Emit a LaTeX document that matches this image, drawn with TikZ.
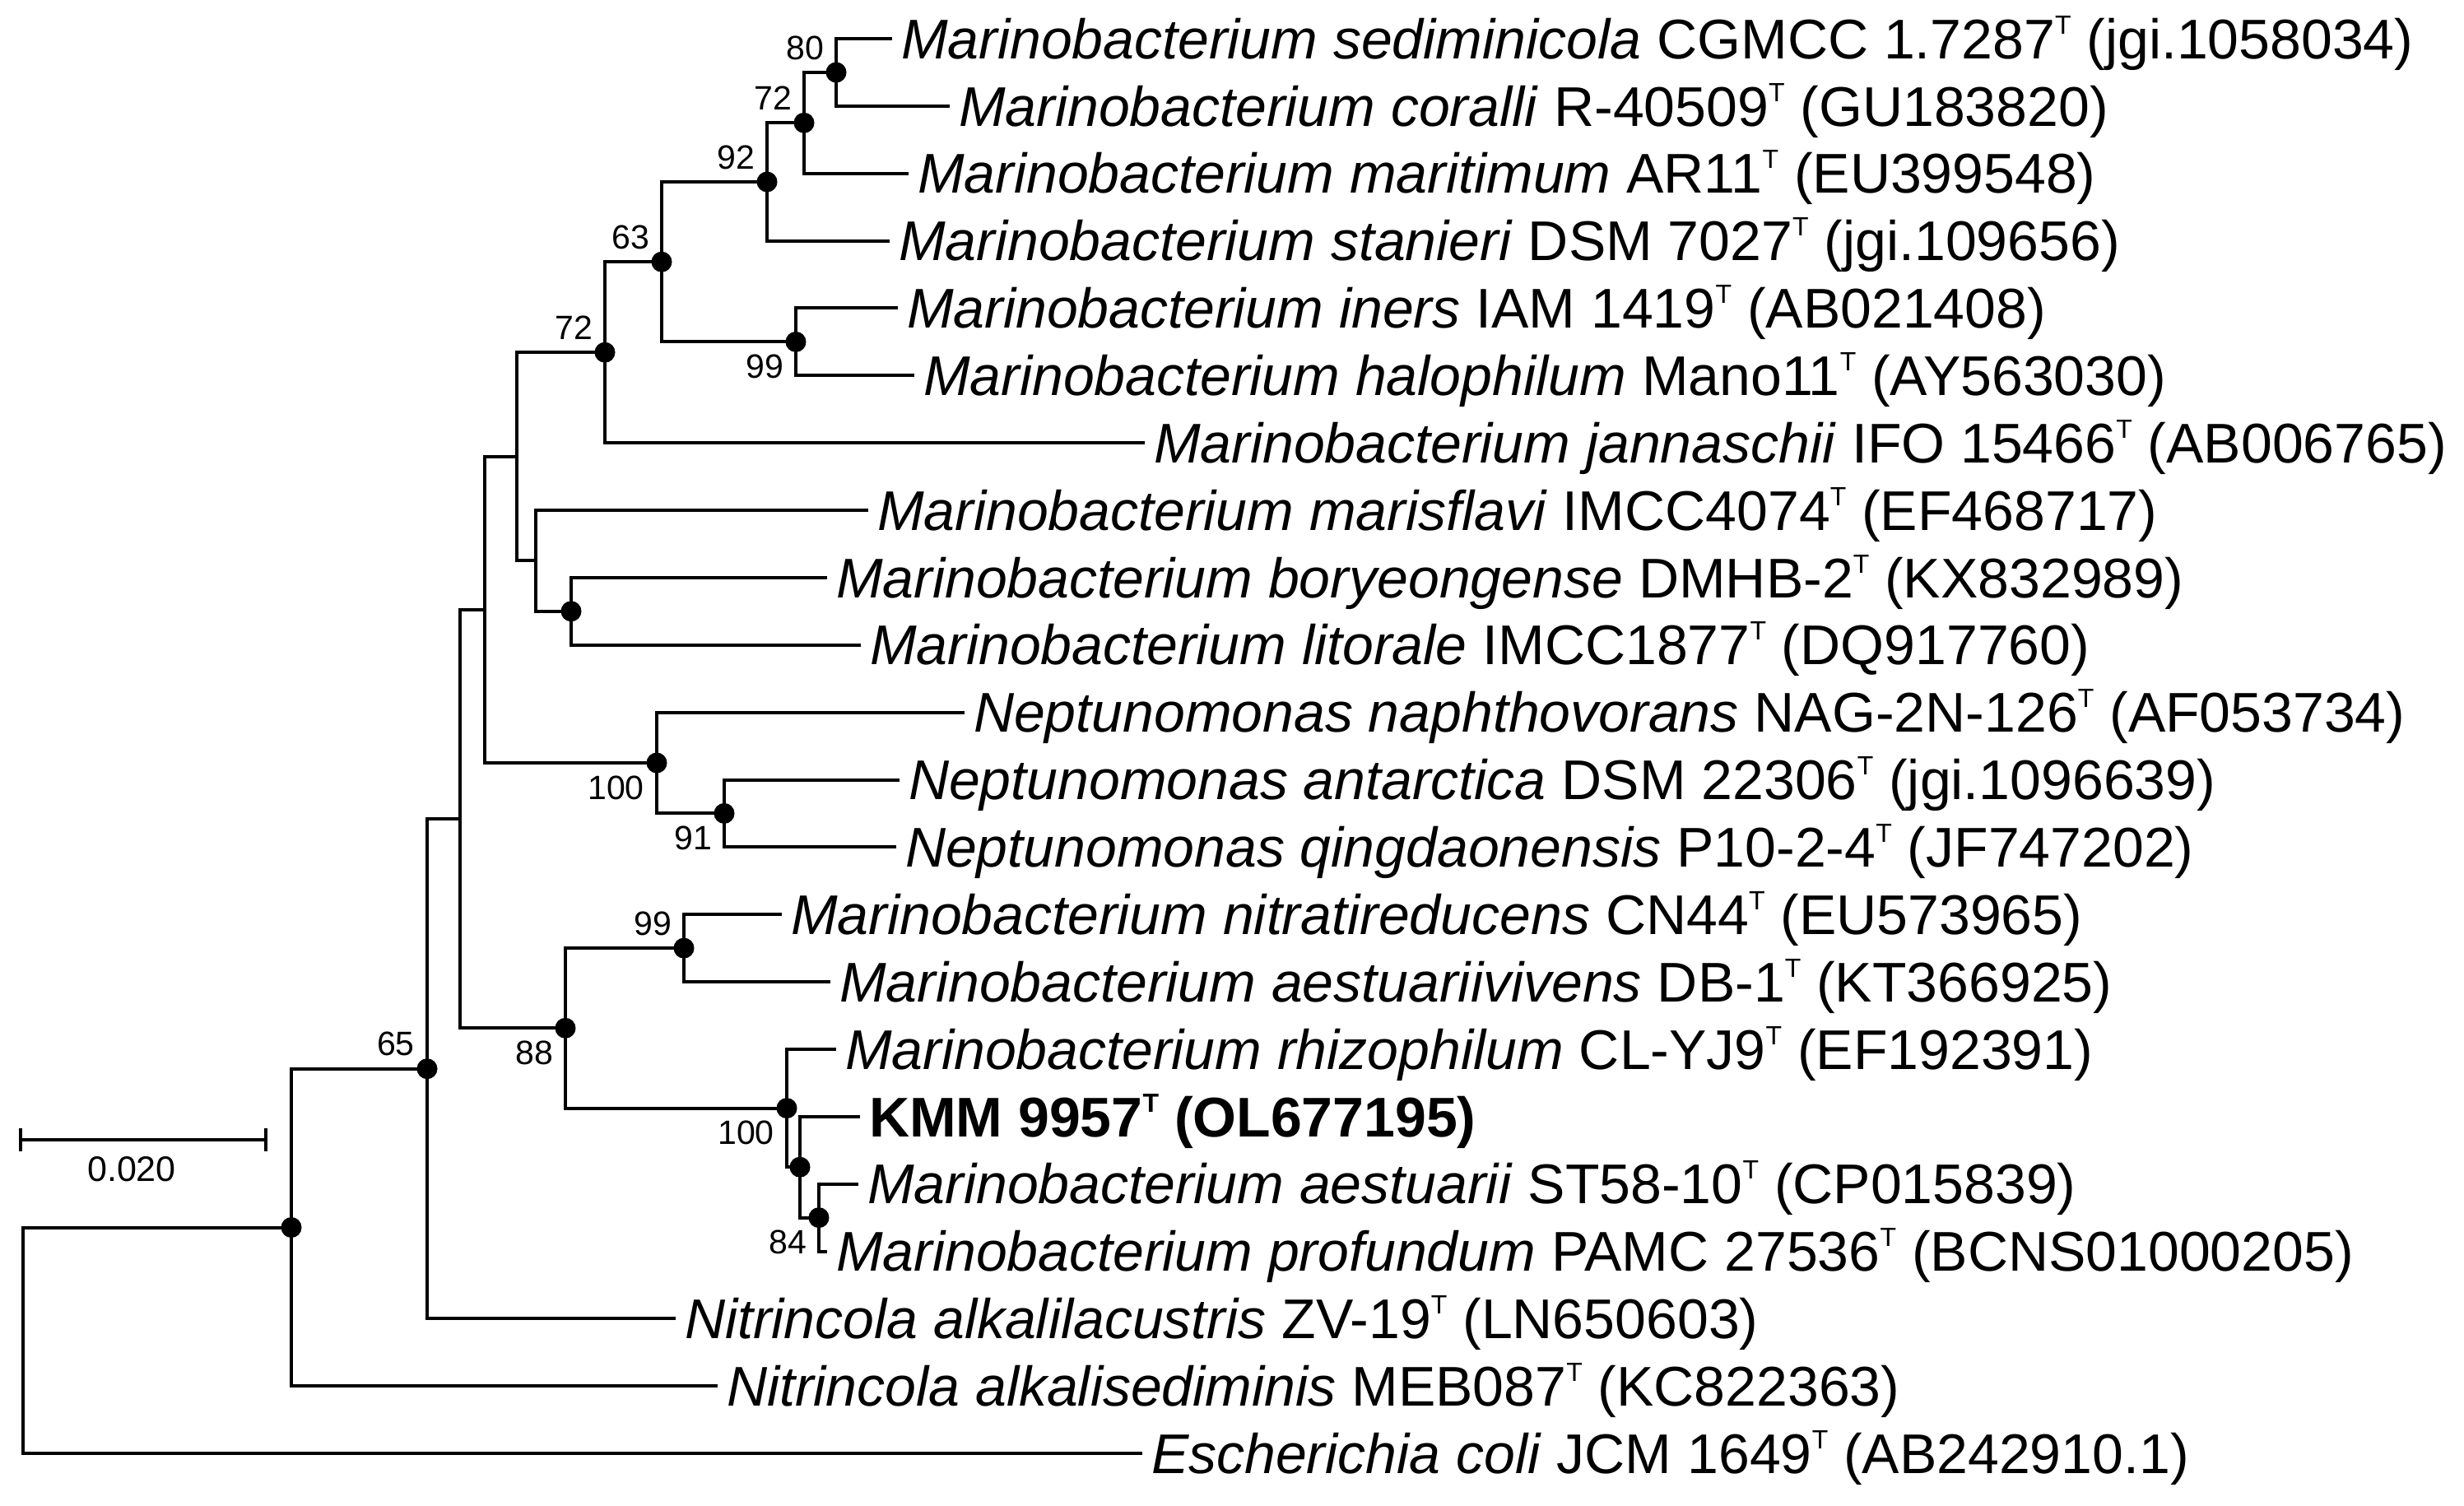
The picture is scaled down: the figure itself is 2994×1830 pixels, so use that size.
\documentclass[tikz,border=0pt]{standalone}
\usepackage{fontspec}
\setmainfont{Liberation Sans}
\newcommand\tsup{\raisebox{30pt}{\fontsize{32}{32}\selectfont T}}
\begin{document}
\begin{tikzpicture}[x=1pt,y=-1pt,
  branch/.style={line width=4pt},
  leaf/.style={anchor=west,inner xsep=11pt,inner ysep=0pt,outer sep=0pt,
    font=\fontsize{68}{72}\selectfont,text height=48.5pt,text depth=0pt},
  boot/.style={font=\fontsize{41}{43}\selectfont,inner sep=0pt},
  bootup/.style={boot,anchor=east,xshift=-15pt,yshift=30pt},
  bootdown/.style={boot,anchor=east,xshift=-15pt,yshift=-30pt},
  dot/.style={fill=black}]
\useasboundingbox (0,0) rectangle (2994,1830);
% internal nodes
\coordinate (root) at (28,1628.8);
\coordinate (n1) at (354,1491.5);
\coordinate (n65) at (519,1298.7);
\coordinate (na) at (559,995.1);
\coordinate (nb) at (589,740.9);
\coordinate (nc) at (628,554.8);
\coordinate (n72b) at (735,428.2);
\coordinate (n63) at (804,318.2);
\coordinate (n92) at (932,221);
\coordinate (n72a) at (977,149.3);
\coordinate (n80) at (1016,88);
\coordinate (n99a) at (967,415.4);
\coordinate (nd) at (651,681.4);
\coordinate (ne) at (694,742.8);
\coordinate (nn100) at (798,927);
\coordinate (n91) at (880,988.4);
\coordinate (n88) at (687,1249.3);
\coordinate (n99b) at (831,1152.1);
\coordinate (n100c) at (956,1346.6);
\coordinate (nf) at (972,1418.2);
\coordinate (n84) at (995,1479.6);
% leaves
\node[leaf] (l0) at (1084,47) {\textit{Marinobacterium sediminicola} CGMCC 1.7287\tsup{} (jgi.1058034)};
\node[leaf] (l1) at (1154,128.9) {\textit{Marinobacterium coralli} R-40509\tsup{} (GU183820)};
\node[leaf] (l2) at (1104,210.7) {\textit{Marinobacterium maritimum} AR11\tsup{} (EU399548)};
\node[leaf] (l3) at (1081,292.6) {\textit{Marinobacterium stanieri} DSM 7027\tsup{} (jgi.109656)};
\node[leaf] (l4) at (1091,374.4) {\textit{Marinobacterium iners} IAM 1419\tsup{} (AB021408)};
\node[leaf] (l5) at (1111,456.3) {\textit{Marinobacterium halophilum} Mano11\tsup{} (AY563030)};
\node[leaf] (l6) at (1391,538.2) {\textit{Marinobacterium jannaschii} IFO 15466\tsup{} (AB006765)};
\node[leaf] (l7) at (1055,620) {\textit{Marinobacterium marisflavi} IMCC4074\tsup{} (EF468717)};
\node[leaf] (l8) at (1005,701.9) {\textit{Marinobacterium boryeongense} DMHB-2\tsup{} (KX832989)};
\node[leaf] (l9) at (1046,783.7) {\textit{Marinobacterium litorale} IMCC1877\tsup{} (DQ917760)};
\node[leaf] (l10) at (1172,865.6) {\textit{Neptunomonas naphthovorans} NAG-2N-126\tsup{} (AF053734)};
\node[leaf] (l11) at (1093,947.5) {\textit{Neptunomonas antarctica} DSM 22306\tsup{} (jgi.1096639)};
\node[leaf] (l12) at (1089,1029.3) {\textit{Neptunomonas qingdaonensis} P10-2-4\tsup{} (JF747202)};
\node[leaf] (l13) at (950,1111.2) {\textit{Marinobacterium nitratireducens} CN44\tsup{} (EU573965)};
\node[leaf] (l14) at (1009,1193) {\textit{Marinobacterium aestuariivivens} DB-1\tsup{} (KT366925)};
\node[leaf] (l15) at (1016,1274.9) {\textit{Marinobacterium rhizophilum} CL-YJ9\tsup{} (EF192391)};
\node[leaf] (l16) at (1045,1356.8) {\textbf{KMM 9957\tsup{} (OL677195)}};
\node[leaf] (l17) at (1043,1438.6) {\textit{Marinobacterium aestuarii} ST58-10\tsup{} (CP015839)};
\node[leaf] (l18) at (1005,1520.5) {\textit{Marinobacterium profundum} PAMC 27536\tsup{} (BCNS01000205)};
\node[leaf] (l19) at (821,1602.3) {\textit{Nitrincola alkalilacustris} ZV-19\tsup{} (LN650603)};
\node[leaf] (l20) at (872,1684.2) {\textit{Nitrincola alkalisediminis} MEB087\tsup{} (KC822363)};
\node[leaf] (l21) at (1388,1766.1) {\textit{Escherichia coli} JCM 1649\tsup{} (AB242910.1)};
% branches
\begin{scope}[branch]
\draw (root) |- (n1);   \draw (root) |- (l21.west);
\draw (n1) |- (n65);    \draw (n1) |- (l20.west);
\draw (n65) |- (na);    \draw (n65) |- (l19.west);
\draw (na) |- (nb);     \draw (na) |- (n88);
\draw (nb) |- (nc);     \draw (nb) |- (nn100);
\draw (nc) |- (n72b);   \draw (nc) |- (nd);
\draw (n72b) |- (n63);  \draw (n72b) |- (l6.west);
\draw (n63) |- (n92);   \draw (n63) |- (n99a);
\draw (n92) |- (n72a);  \draw (n92) |- (l3.west);
\draw (n72a) |- (n80);  \draw (n72a) |- (l2.west);
\draw (n80) |- (l0.west); \draw (n80) |- (l1.west);
\draw (n99a) |- (l4.west); \draw (n99a) |- (l5.west);
\draw (nd) |- (l7.west); \draw (nd) |- (ne);
\draw (ne) |- (l8.west); \draw (ne) |- (l9.west);
\draw (nn100) |- (l10.west); \draw (nn100) |- (n91);
\draw (n91) |- (l11.west); \draw (n91) |- (l12.west);
\draw (n88) |- (n99b);  \draw (n88) |- (n100c);
\draw (n99b) |- (l13.west); \draw (n99b) |- (l14.west);
\draw (n100c) |- (l15.west); \draw (n100c) |- (nf);
\draw (nf) |- (l16.west); \draw (nf) |- (n84);
\draw (n84) |- (l17.west); \draw (n84) |- (l18.west);
\end{scope}
% dots
\foreach \n in {n1,n65,n72b,n63,n92,n72a,n80,n99a,ne,nn100,n91,n88,n99b,n100c,nf,n84}
  \fill[dot] (\n) circle[radius=12.5pt];
% bootstrap values
\node[bootup] (b80) at (n80) {80};
\node[bootup] (b72a) at (n72a) {72};
\node[bootup] (b92) at (n92) {92};
\node[bootup] (b63) at (n63) {63};
\node[bootup] (b72b) at (n72b) {72};
\node[bootdown] (b99a) at (n99a) {99};
\node[bootdown] (b100n) at (nn100) {100};
\node[bootdown] (b91) at (n91) {91};
\node[bootup] (b99b) at (n99b) {99};
\node[bootdown] (b88) at (n88) {88};
\node[bootup] (b65) at (n65) {65};
\node[bootdown] (b100c) at (n100c) {100};
\node[bootdown] (b84) at (n84) {84};
% scale bar
\coordinate (sbl) at (25,1385);
\coordinate (sbr) at (323,1385);
\draw[line width=3.5pt] (sbl) -- (sbr);
\draw[branch] ([yshift=14pt]sbl) -- ([yshift=-14pt]sbl);
\draw[branch] ([yshift=14pt]sbr) -- ([yshift=-14pt]sbr);
\node[boot,font=\fontsize{43}{45}\selectfont] (sblabel) at (160,1421) {0.020};
\end{tikzpicture}
\end{document}
